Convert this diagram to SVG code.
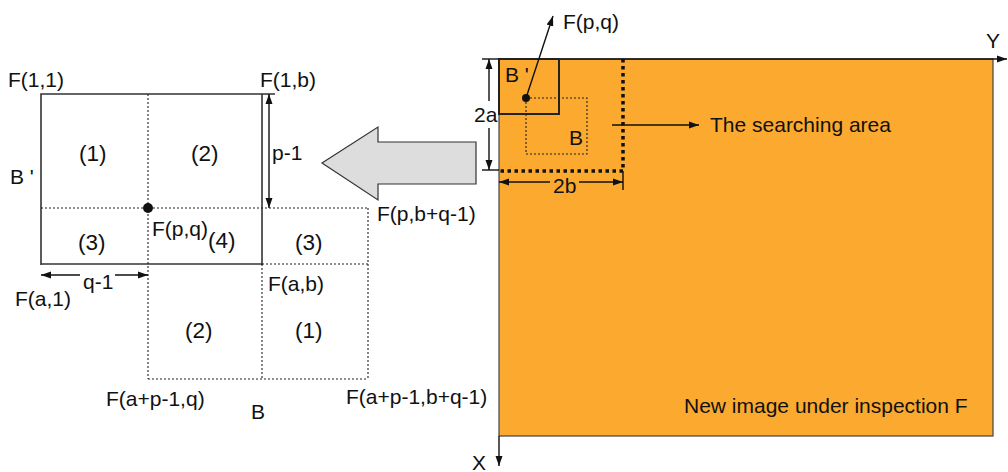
<svg xmlns="http://www.w3.org/2000/svg" width="1008" height="472" viewBox="0 0 1008 472">
<defs>
<style>
text{font-family:"Liberation Sans",Arial,Helvetica,sans-serif;font-size:21px;fill:#111}
.num{font-size:22.5px}
.solid{stroke:#333;stroke-width:1.6;fill:none}
.dot{stroke:#222;stroke-width:1.1;stroke-dasharray:2 2;fill:none}
.thick{stroke:#111;stroke-width:3.5;stroke-dasharray:3.5 3.5;fill:none}
.arr{stroke:#111;stroke-width:1.4;fill:none}
</style>
<marker id="ah" viewBox="0 0 10 10" refX="10" refY="5" markerWidth="10" markerHeight="10" markerUnits="userSpaceOnUse" orient="auto-start-reverse">
<path d="M0,1.5 L10,5 L0,8.5 Z" fill="#111"/>
</marker>
</defs>
<rect width="1008" height="472" fill="#fff"/>

<g id="image-F">
<rect x="499" y="59" width="494" height="377" fill="#FBA92F" stroke="#444" stroke-width="1.2"/>
<text x="684" y="413">New image under inspection F</text>
</g>

<g id="axes">
<line x1="499" y1="59" x2="1007" y2="59" class="arr" marker-end="url(#ah)"/>
<line x1="499" y1="436" x2="499" y2="466" class="arr" marker-end="url(#ah)"/>
<text x="986" y="48" font-size="22">Y</text>
<text x="472" y="470" font-size="22">X</text>
</g>

<g id="block-Bprime-small">
<rect x="499" y="59" width="60" height="55" fill="none" stroke="#222" stroke-width="2"/>
<text x="505" y="82">B '</text>
</g>

<g id="block-B-small">
<rect x="526" y="98" width="61" height="56" class="dot"/>
<text x="569" y="145">B</text>
</g>

<g id="searching-area">
<polyline points="623,59 623,171 499,171" class="thick"/>
<text x="710" y="132">The searching area</text>
</g>

<g id="left-Bprime">
<polyline points="41,265 41,94 275,94" class="solid"/>
<line x1="262" y1="94" x2="262" y2="265" class="solid"/>
<line x1="41" y1="264" x2="262" y2="264" class="solid"/>
<text x="8" y="87">F(1,1)</text>
<text x="260" y="87">F(1,b)</text>
<text x="10" y="184">B '</text>
<text class="num" x="79" y="161">(1)</text>
<text class="num" x="191" y="161">(2)</text>
<text class="num" x="78" y="250">(3)</text>
<text class="num" x="208" y="248">(4)</text>
<text x="15" y="306">F(a,1)</text>
</g>

<g id="left-B">
<line x1="148" y1="94" x2="148" y2="379" class="dot"/>
<line x1="41" y1="208" x2="368" y2="208" class="dot"/>
<line x1="368" y1="208" x2="368" y2="379" class="dot"/>
<line x1="148" y1="379" x2="368" y2="379" class="dot"/>
<line x1="262" y1="264" x2="262" y2="379" class="dot"/>
<line x1="262" y1="264" x2="368" y2="264" class="dot"/>
<text class="num" x="295" y="250">(3)</text>
<text x="268" y="291">F(a,b)</text>
<text class="num" x="185" y="338">(2)</text>
<text class="num" x="295" y="338">(1)</text>
<text x="106" y="406">F(a+p-1,q)</text>
<text x="251" y="419">B</text>
<text x="346" y="404">F(a+p-1,b+q-1)</text>
<text x="377" y="221">F(p,b+q-1)</text>
<text x="152" y="236">F(p,q)</text>
</g>

<g id="big-arrow">
<polygon points="322,163 378,127 378,142 476,142 476,184 378,184 378,200" fill="#DDDDDD" stroke="#333" stroke-width="1.2"/>
</g>

<g id="connectors">
<line x1="269" y1="94" x2="269" y2="208" class="arr" marker-start="url(#ah)" marker-end="url(#ah)"/>
<line x1="41" y1="275" x2="80" y2="275" class="arr" marker-start="url(#ah)"/>
<line x1="115" y1="275" x2="148" y2="275" class="arr" marker-end="url(#ah)"/>
<circle cx="148" cy="208" r="5" fill="#111"/>
<line x1="482" y1="59" x2="499" y2="59" class="arr"/>
<line x1="482" y1="170" x2="499" y2="170" class="arr"/>
<line x1="489" y1="59" x2="489" y2="101" class="arr" marker-start="url(#ah)"/>
<line x1="489" y1="128" x2="489" y2="170" class="arr" marker-end="url(#ah)"/>
<line x1="623" y1="171" x2="623" y2="190" class="arr"/>
<line x1="499" y1="182" x2="550" y2="182" class="arr" marker-start="url(#ah)"/>
<line x1="579" y1="182" x2="623" y2="182" class="arr" marker-end="url(#ah)"/>
<line x1="612" y1="125" x2="699" y2="125" class="arr" marker-end="url(#ah)"/>
<circle cx="526" cy="98" r="4" fill="#111"/>
<line x1="526" y1="98" x2="553" y2="16" class="arr" marker-end="url(#ah)"/>
<text x="563" y="29">F(p,q)</text>
<text x="272" y="160">p-1</text>
<text x="83" y="289">q-1</text>
<text x="474" y="122">2a</text>
<text x="553" y="193">2b</text>
</g>
</svg>
